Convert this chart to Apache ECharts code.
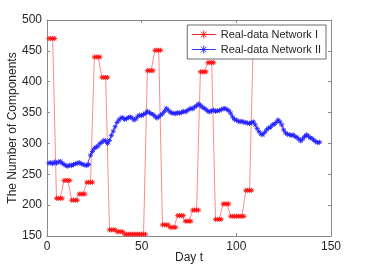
<!DOCTYPE html>
<html>
<head>
<meta charset="utf-8">
<script src="https://cdn.jsdelivr.net/npm/echarts@6/dist/echarts.min.js"></script>
<style>html,body{margin:0;padding:0;background:#fff}#c{width:366px;height:274px}</style>
</head>
<body>
<div id="c"></div>
<script>
// Series names
const seriesNames = ['Real-data Network I', 'Real-data Network II'];
// Axis ticks
const xTicks = [0, 50, 100, 150];
const yTicks = [150, 200, 250, 300, 350, 400, 450, 500];
// Network I: value per day, starting day 1
const networkI = [
  470,470,470,470, 211,211,211,211, 240,240,240,240, 208,208,208,208,
  218,218,218,218, 237,237,237,237, 440,440,440,440, 407,407,407,407,
  160,160,160,160, 157,157,157,157,
  153,153,153,153,153,153,153,153,153,153,153,153,
  418,418,418,418, 451,451,451,451, 168,168,168,168, 164,164,164,164,
  183,183,183,183, 174,174,174,174, 192,192,192,192, 416,416,416,416,
  431,431,431,431, 177,177,177,177, 202,202,202,202,
  182,182,182,182,182,182,182,182, 224,224,224,224, 470,470
];
// Network II: value per day, starting day 1
const networkII = [
  268,269,267,270,268, 270,271,268, 266,264,263,265, 264,266,267,268,
  269,267,266,265, 264,266, 281,287, 292,294,296,300, 302,305,304,300,
  305,313,320,327, 334,338,341,342, 339,340,342,343, 341,338,340,344,
  346,345,347,349, 352,350,348,347, 344,341,343,346, 348,352,357,354,
  351,349,349,348, 350,349,350,352, 351,353,355,357, 356,359,361,364,
  362,359,357,355, 352,351,353,354, 352,353,353,355, 356,357,355,353,
  349,343,339,338, 336,335,336,334, 334,333,332,334, 335,330,324,319,
  315,314,318,322, 325,326,330,331, 334,338,335,330, 322,317,315,314,
  313,314,311,310, 307,304,307,311, 314,312,309,308, 305,303,301,302
];

const toPairs = arr => arr.map((v, i) => [i + 1, v]);
const asterisk = 'path://M5,0L5,10M0,5L10,5M1.5,1.5L8.5,8.5M1.5,8.5L8.5,1.5';
const legendMark = 'path://M0,5L24,5M12,1L12,9M8,5L16,5M9.2,2.2L14.8,7.8M9.2,7.8L14.8,2.2';
const seriesColors = ['#ff1010', '#2020ff'];
const axisGrey = '#8a8a8a';
const textCol = '#262626';
const font = 'Liberation Sans, Arial, sans-serif';

const chart = echarts.init(document.getElementById('c'), null, {renderer: 'canvas'});
const xBase = {
  type: 'value', min: xTicks[0], max: xTicks[xTicks.length - 1], interval: xTicks[1] - xTicks[0],
  splitLine: {show: false},
  axisLine: {show: true, onZero: false, lineStyle: {color: axisGrey, width: 1}},
  axisTick: {show: true, inside: true, length: 3, lineStyle: {color: axisGrey}},
};
const yBase = {
  type: 'value', min: yTicks[0], max: yTicks[yTicks.length - 1], interval: yTicks[1] - yTicks[0],
  splitLine: {show: false},
  axisLine: {show: true, onZero: false, lineStyle: {color: axisGrey, width: 1}},
  axisTick: {show: true, inside: true, length: 3, lineStyle: {color: axisGrey}},
};
chart.setOption({
  animation: false,
  backgroundColor: '#fff',
  grid: {left: 47, right: 35, top: 20, bottom: 38, containLabel: false, outerBoundsMode: 'none'},
  xAxis: [
    Object.assign({}, xBase, {
      position: 'bottom',
      axisLabel: {show: true, color: textCol, fontSize: 12, fontFamily: font, margin: 5},
      name: 'Day t', nameLocation: 'middle', nameGap: 16, nameMoveOverlap: false,
      nameTextStyle: {color: textCol, fontSize: 12, fontFamily: font}
    }),
    Object.assign({}, xBase, {position: 'top', axisLabel: {show: false}})
  ],
  yAxis: [
    Object.assign({}, yBase, {
      position: 'left',
      axisLabel: {show: true, color: textCol, fontSize: 12, fontFamily: font, margin: 5},
      name: 'The Number of Components', nameLocation: 'middle', nameGap: 28, nameMoveOverlap: false,
      nameTextStyle: {color: textCol, fontSize: 12, fontFamily: font}
    }),
    Object.assign({}, yBase, {position: 'right', axisLabel: {show: false}})
  ],
  legend: {
    orient: 'vertical', right: 40, top: 25,
    backgroundColor: '#fff', borderColor: '#444', borderWidth: 0.8,
    padding: [3, 5, 3, 4], itemGap: 2, itemWidth: 24, itemHeight: 9,
    textStyle: {color: textCol, fontSize: 11, fontFamily: font, lineHeight: 13},
    data: seriesNames.map((n, i) => ({
      name: n, icon: legendMark,
      itemStyle: {color: 'rgba(0,0,0,0)', borderColor: seriesColors[i], borderWidth: 0.9}
    })),
    z: 10
  },
  series: [
    {
      name: seriesNames[0], type: 'line', data: toPairs(networkI),
      symbol: asterisk, symbolSize: 5, showAllSymbol: true,
      lineStyle: {color: '#ff8a8a', width: 1},
      itemStyle: {color: seriesColors[0], borderColor: seriesColors[0], borderWidth: 0.9},
      z: 2
    },
    {
      name: seriesNames[1], type: 'line', data: toPairs(networkII),
      symbol: asterisk, symbolSize: 5, showAllSymbol: true,
      lineStyle: {color: '#4a4aff', width: 1},
      itemStyle: {color: seriesColors[1], borderColor: seriesColors[1], borderWidth: 0.9},
      z: 3
    }
  ]
});
</script>
</body>
</html>
